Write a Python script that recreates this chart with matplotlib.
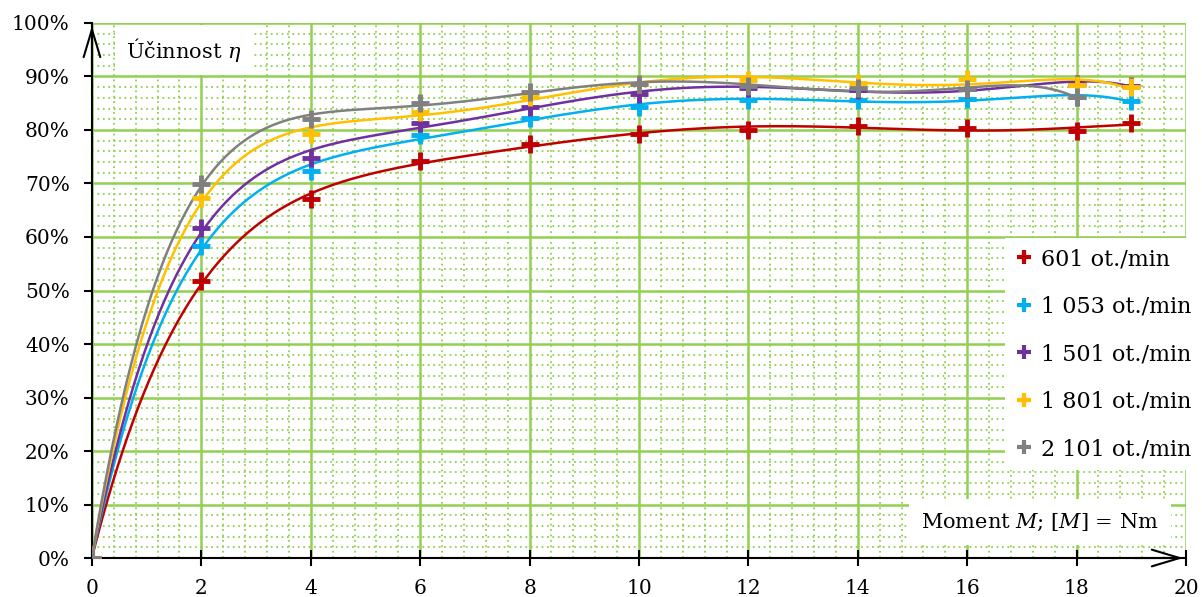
import numpy as np
import matplotlib
matplotlib.use("Agg")
import matplotlib.pyplot as plt
from matplotlib.lines import Line2D
from matplotlib.ticker import MultipleLocator, FuncFormatter

plt.rcParams['font.family'] = ['DejaVu Serif']
plt.rcParams['mathtext.fontset'] = 'dejavuserif'

# data (torque in Nm, efficiency in %)
m_601 = [0, 2, 4, 6, 8, 10, 12, 14, 16, 18, 19]
eta_601 = [0, 51.8, 67.1, 74.2, 77.3, 79.3, 80.0, 80.7, 80.4, 79.8, 81.3]

m_1053 = [0, 2, 4, 6, 8, 10, 12, 14, 16, 18, 19]
eta_1053 = [0, 58.3, 72.3, 79.1, 82.2, 84.3, 85.6, 85.6, 85.7, 86.1, 85.4]

m_1501 = [0, 2, 4, 6, 8, 10, 12, 14, 16, 18, 19]
eta_1501 = [0, 61.6, 74.8, 81.4, 84.3, 86.7, 87.8, 87.5, 87.6, 88.6, 88.3]

m_1801 = [0, 2, 4, 6, 8, 10, 12, 14, 16, 18, 19]
eta_1801 = [0, 67.2, 79.2, 83.3, 86.2, 88.6, 89.4, 88.8, 89.5, 88.4, 88.0]

m_2101 = [0, 2, 4, 6, 8, 10, 12, 14, 16, 18]
eta_2101 = [0, 69.9, 82.1, 85.1, 87.1, 88.6, 88.2, 87.8, 87.6, 86.1]

series = [
    ("601 ot./min", m_601, eta_601, "#C00000"),
    ("1 053 ot./min", m_1053, eta_1053, "#00B0F0"),
    ("1 501 ot./min", m_1501, eta_1501, "#7030A0"),
    ("1 801 ot./min", m_1801, eta_1801, "#FFC000"),
    ("2 101 ot./min", m_2101, eta_2101, "#808080"),
]

fig = plt.figure(figsize=(12.02, 5.97), dpi=100)
ax = fig.add_axes([0.0765, 0.0653, 0.9102, 0.8962])

green = "#92D050"
ax.set_xlim(0, 20)
ax.set_ylim(0, 100)
ax.xaxis.set_major_locator(MultipleLocator(2))
ax.xaxis.set_minor_locator(MultipleLocator(0.4))
ax.yaxis.set_major_locator(MultipleLocator(10))
ax.yaxis.set_minor_locator(MultipleLocator(2))
ax.yaxis.set_major_formatter(FuncFormatter(lambda v, p: "%d%%" % v))
ax.grid(which='major', color=green, lw=1.8, ls='-')
ax.grid(which='minor', color=green, lw=1.3, ls=(0, (1, 2)))
ax.set_axisbelow(True)

# polynomial trendline (order 6) for each series
for lab, x, y, c in series:
    coef = np.polyfit(x, y, 6)
    xs = np.linspace(x[0], x[-1], 400)
    ax.plot(xs, np.polyval(coef, xs), color=c, lw=1.8, zorder=3)
    ax.plot(x, y, ls='none', marker='+', ms=13, mew=3.5, color=c, zorder=4)

for s in ['top', 'right']:
    ax.spines[s].set_visible(False)
for s in ['left', 'bottom']:
    ax.spines[s].set_color('black')
    ax.spines[s].set_linewidth(1.5)

ax.tick_params(which='minor', length=0)
ax.tick_params(axis='x', which='major', direction='inout', length=12, width=1.5, labelsize=14.5, pad=9)
ax.tick_params(axis='y', which='major', direction='out', length=6, width=1.5, labelsize=14.5, pad=10)

# axis arrows
head = dict(arrowstyle='->, head_length=1.0, head_width=0.3', lw=1.5, color='black', mutation_scale=20)
ax.annotate('', xy=(0, 1.0), xytext=(0, 0.9), xycoords='axes fraction', arrowprops=head)
ax.annotate('', xy=(1.0, 0), xytext=(0.95, 0), xycoords='axes fraction', arrowprops=head)

ax.text(0.62, 95, u"Účinnost $\\eta$", fontsize=15, va='center', ha='left',
        bbox=dict(facecolor='white', edgecolor='none', pad=8), zorder=5)
ax.text(19.5, 6.7, "Moment $M$; [$M$] = Nm", fontsize=15, va='center', ha='right',
        bbox=dict(facecolor='white', edgecolor='none', pad=9), zorder=5)

handles = [Line2D([], [], ls='none', marker='+', ms=10, mew=3, color=c) for _, _, _, c in series]
labels = [lab for lab, _, _, _ in series]
leg = ax.legend(handles, labels, loc='upper left', bbox_to_anchor=(1005 / 1202, 1 - 238 / 597),
                bbox_transform=fig.transFigure, fontsize=16, frameon=True, fancybox=False,
                edgecolor='none', facecolor='white', framealpha=1, labelspacing=1.15,
                handlelength=0.8, handletextpad=0.35, borderpad=0.45, borderaxespad=0)
leg.set_zorder(6)

fig.savefig("out.png", dpi=100)
